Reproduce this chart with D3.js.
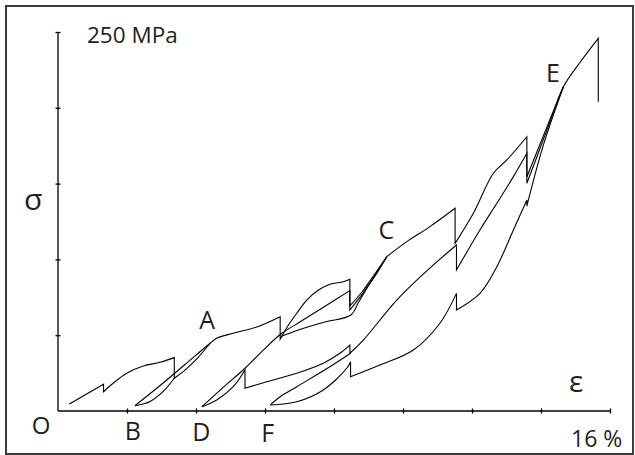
<!DOCTYPE html>
<html><head><meta charset="utf-8">
<script src="https://cdn.jsdelivr.net/npm/d3@7"></script>
<style>html,body{margin:0;padding:0;background:#fff;} svg{display:block;}</style>
</head><body>
<svg id="chart" width="635" height="455"></svg>
<script>
// ---- data (strain %, stress MPa) ----
const strainMax = 16;
const stressMax = 250;
const strainTicks = [2, 4, 6, 8, 10, 12, 14, 16];
const stressTicks = [50, 100, 150, 200, 250];
const yTopLabel = "250 MPa";
const xEndLabel = "16 %";
const axisSymbols = ["σ", "ε"];
const pointNames = ["O", "A", "B", "C", "D", "E", "F"];

const pathOA = [[0.33,4.6],[1.32,17.6],[1.32,12.7],[1.60,18.3],[1.99,24.9],[2.47,29.7],[2.96,32.1],[3.37,35.2],[3.37,21.6],[3.68,27.0],[4.03,34.6],[4.41,44.7]];
const pathAB = [[3.37,21.6],[3.05,12.9],[2.67,6.3],[2.23,3.5]];
const pathBC = [[2.23,3.5],[2.96,16.8],[3.68,30.7],[4.41,44.7],[4.60,48.0],[5.08,51.3],[5.76,55.4],[6.44,62.2],[6.44,47.3],[6.68,56.7],[6.92,64.5],[7.21,73.2],[7.55,79.8],[7.88,83.6],[8.27,85.3],[8.46,86.9],[8.46,69.3],[8.81,78.5],[9.16,89.7],[9.53,101.8]];
const pathCE = [[9.53,101.8],[10.11,111.7],[10.78,121.6],[11.51,133.7],[11.51,110.6],[12.04,130.4],[12.62,156.8],[13.01,165.6],[13.59,180.9],[13.59,150.2],[13.86,166.4],[14.23,189.0],[14.65,213.9],[15.13,229.9],[15.66,245.8],[15.66,204.0]];
const pathCD = [[9.53,101.8],[9.25,91.7],[8.95,80.9],[8.70,71.2],[8.49,63.3],[7.74,58.7],[7.01,53.8],[6.46,49.1]];
const pathDC = [[4.17,2.8],[4.79,15.6],[5.42,28.2],[5.95,40.2],[6.46,50.8],[7.01,58.7],[7.59,67.0],[8.46,79.4],[8.46,66.6],[8.84,77.8],[9.19,89.1],[9.53,101.8]];
const pathDE = [[4.17,2.8],[4.60,7.3],[5.08,16.0],[5.42,27.0],[5.42,15.0],[6.05,19.3],[6.92,24.9],[7.69,31.5],[8.17,38.1],[8.46,43.5],[8.46,38.1],[8.85,46.8],[9.82,73.2],[10.78,94.3],[11.55,109.5],[11.55,93.0],[12.23,119.4],[12.72,137.0],[13.20,154.6],[13.59,170.0],[13.59,154.4],[13.86,169.7],[14.23,190.6],[14.65,213.9]];
const pathEF = [[8.48,38.1],[7.88,29.2],[6.92,16.0],[6.44,9.4],[6.15,4.0]];
const pathFE = [[6.15,4.0],[6.92,6.1],[7.69,13.9],[8.37,28.2],[8.48,32.5],[8.48,22.6],[9.33,30.3],[10.30,40.2],[11.07,57.9],[11.55,77.6],[11.55,66.6],[12.23,77.6],[12.72,95.2],[13.20,119.4],[13.59,139.2],[13.59,135.2],[14.07,175.5],[14.65,213.9]];

const allPaths = [pathOA, pathAB, pathBC, pathCE, pathCD, pathDC, pathDE, pathEF, pathFE];

// ---- drawing ----
const svg = d3.select("#chart");
const ink = "#231f20";
const font = "'Open Sans', 'Noto Sans', sans-serif";

svg.append("rect").attr("x", 6).attr("y", 6).attr("width", 627).attr("height", 448)
  .attr("fill", "none").attr("stroke", "#3a3a3a").attr("stroke-width", 2);

const x = d3.scaleLinear().domain([0, strainMax]).range([58, 610]);
const y = d3.scaleLinear().domain([0, stressMax]).range([411, 32]);

// axes
const gx = svg.append("g").attr("transform", `translate(0,${y(0)})`)
  .call(d3.axisBottom(x).tickValues(strainTicks).tickSizeOuter(0).tickSizeInner(3).tickFormat(""));
const gy = svg.append("g").attr("transform", `translate(${x(0)},0)`)
  .call(d3.axisLeft(y).tickValues(stressTicks).tickSizeOuter(0).tickSizeInner(3).tickFormat(""));
gx.selectAll(".tick line").attr("y1", -2.5).attr("y2", 2.5);
gy.selectAll(".tick line").attr("x1", -2.5).attr("x2", 2.5);
[gx, gy].forEach(g => {
  g.selectAll("path.domain, .tick line").attr("stroke", "#000").attr("stroke-width", 1.3);
});
gx.select("path.domain").attr("d", `M${x(0)},0H${x(strainMax)}`);
gy.select("path.domain").attr("d", `M0,${y(0)}V${y(stressMax)}`);

// curves
const line = d3.line().x(d => x(d[0])).y(d => y(d[1])).curve(d3.curveCatmullRom.alpha(0.5));
function runs(pts) {
  const out = []; let cur = [pts[0]];
  for (let i = 1; i < pts.length; i++) {
    if (pts[i][0] === pts[i - 1][0]) { out.push(cur); cur = [pts[i]]; }
    else cur.push(pts[i]);
  }
  out.push(cur);
  return out;
}
function pathD(pts) {
  return runs(pts).map((r, i) => {
    let s = r.length === 1 ? `M${x(r[0][0])},${y(r[0][1])}` : line(r);
    return i ? "L" + s.slice(1) : s;
  }).join("");
}
svg.append("g").selectAll("path").data(allPaths).join("path")
  .attr("d", d => pathD(d)).attr("fill", "none").attr("stroke", "#000")
  .attr("stroke-width", 1.1).attr("stroke-linejoin", "miter");

// texts
function txt(t, px, py, size, anchor) {
  svg.append("text").attr("x", px).attr("y", py).attr("font-family", font)
    .attr("font-size", size).attr("fill", ink).attr("text-anchor", anchor || "start").text(t);
}
txt(yTopLabel, x(0) + 29, y(stressMax) + 10.5, 22.5);
txt(xEndLabel, x(strainMax) - 39, y(0) + 35.5, 23, "start");
txt(axisSymbols[0], 24, 210, 30);
txt(axisSymbols[1], 569, 391.5, 30);
const A = pathOA[pathOA.length - 1], B = pathAB[pathAB.length - 1];
const C = pathBC[pathBC.length - 1], D = pathDC[0], E = pathCE[12], F = pathEF[pathEF.length - 1];
txt(pointNames[0], 41, 433.5, 24, "middle");
txt(pointNames[1], x(A[0]) - 3, y(A[1]) - 14, 25, "middle");
txt(pointNames[2], x(B[0]) - 2, 440, 25, "middle");
txt(pointNames[3], x(C[0]) - 0.5, y(C[1]) - 17.5, 25, "middle");
txt(pointNames[4], x(D[0]) - 0.5, 441, 25, "middle");
txt(pointNames[5], x(E[0]) - 10.5, y(E[1]) - 5, 25, "middle");
txt(pointNames[6], x(F[0]) - 2.5, 442, 25, "middle");
</script>
</body></html>
